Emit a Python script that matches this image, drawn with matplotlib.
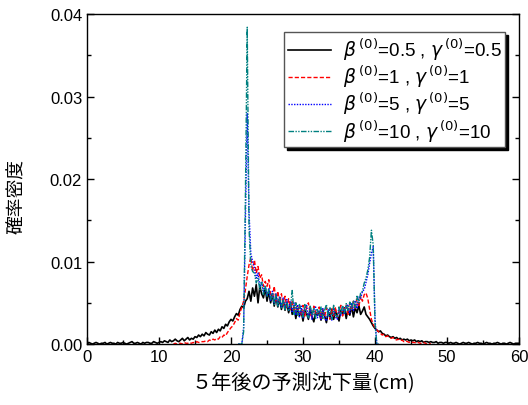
import numpy as np
import matplotlib
matplotlib.use("Agg")
import matplotlib.pyplot as plt
from matplotlib.ticker import MultipleLocator

plt.rcParams['font.family'] = ['Liberation Sans', 'Noto Sans CJK JP', 'DejaVu Sans']
plt.rcParams['mathtext.fontset'] = 'dejavusans'

# bin width of the settlement histograms (cm); densities stored in units of 1e-4
step = 0.25
scale = 1e-4

# beta=0.5, gamma=0.5 : from 0 cm to 60 cm
b05_start = 0.0
b05 = [
    0, 2, 1, 0, 1, 2, 1, 0, 1, 1, 2, 0, 1, 2, 1, 1, 0, 2, 1, 1, 2, 1, 0, 1, 2, 3, 1, 1, 2, 1, 0, 2, 1, 2, 2, 1, 1, 3, 2, 1, 2,
    3, 2, 4, 3, 2, 5, 3, 4, 6, 4, 3, 5, 7, 4, 6, 8, 5, 7, 6, 9,
    8, 11, 9, 12, 10, 14, 12, 11, 15, 13, 17, 14, 18, 16, 21, 19, 24, 22, 27, 30,
    28, 33, 37, 35, 42, 46, 44, 52,
    55, 64, 52, 68, 58, 72, 50, 70, 61, 56, 68, 52,
    64, 50, 61, 46, 58, 45, 55, 42, 53, 41, 50, 38,
    48, 36, 45, 31, 43, 34, 40, 28, 41, 37, 30, 44, 33, 27, 39, 35,
    38, 29, 41, 34, 26, 39, 33, 42, 30, 40, 35, 28, 41, 36, 44, 31,
    43, 35, 46, 33, 44, 38, 47, 36, 40, 45,
    36, 33, 30, 26, 22, 19,
    17, 15, 16, 13, 12, 10, 11, 9,
    8, 9, 7, 8, 6, 7, 5, 6, 5, 6, 4, 5,
    4, 5, 3, 4, 3, 4, 2, 3, 3, 2, 3, 2, 2, 3, 1, 2, 2, 1, 2, 2,
    1, 2, 1, 1, 2, 1, 0, 1, 2, 1, 1, 2, 1, 0, 1, 1, 2, 1, 1, 0,
    1, 2, 1, 1, 0, 1, 1, 2, 1, 0, 1, 1, 0, 1, 2, 1, 0, 1, 1, 1,
]

# beta=1, gamma=1 : from 12 cm
b1_start = 12.0
b1 = [
    0, 1, 0, 1, 1, 0, 2, 1, 1, 2, 1, 2, 1, 3, 2, 2, 3,
    3, 4, 3, 5, 4, 6, 5, 7, 6, 9, 8, 11, 10, 14, 17, 20,
    22, 26, 31, 29, 38, 45, 52, 66,
    82, 96, 105, 88, 102, 86,
    94, 80, 84, 70, 76,
    70, 78, 60, 57, 70, 52, 64, 50, 61, 47, 58, 45,
    55, 42, 53, 38, 50, 36, 48, 35, 47, 34, 45, 50, 36, 33, 46, 38,
    35, 45, 31, 42, 33, 44, 36, 30, 43, 34, 45, 32, 40, 47, 34, 43,
    47, 36, 50, 40, 52, 42, 55, 45, 58, 52,
    60, 62, 55, 42, 30, 24,
    20, 17, 15, 13, 11, 12, 9, 10,
    8, 7, 8, 6, 5, 6, 4, 5, 3, 4, 3, 2,
    3, 2, 2, 1, 2, 1, 1, 2, 1, 0, 1, 0,
]

# beta=5, gamma=5 : from 21 cm
b5_start = 21.0
b5 = [
    0, 0, 0,
    20, 150, 280,
    160, 110, 100,
    92, 80, 86, 70, 76, 64, 70, 58,
    68, 52, 64, 49, 61, 46, 58, 44, 56, 42, 54, 41,
    52, 38, 50, 35, 48, 33, 46, 32, 44, 47, 31, 43, 30, 42, 45, 32,
    41, 30, 43, 32, 28, 42, 34, 29, 44, 33, 30, 43, 35, 46, 36, 45,
    48, 37, 50, 40, 53, 43, 57, 55, 64, 66,
    75, 84, 98, 110, 118,
    30, 0, 0,
]

# beta=10, gamma=10 : from 21 cm
b10_start = 21.0
b10 = [
    0, 0, 0,
    15, 180, 384,
    140, 95, 88,
    86, 74, 80, 66, 75, 60, 71, 58,
    66, 54, 62, 48, 60, 46, 56, 44, 54, 42, 51, 40,
    44, 65, 36, 50, 35, 48, 40, 33, 48, 37, 32, 46, 35, 44, 31, 42,
    34, 45, 31, 41, 48, 33, 44, 30, 47, 35, 33, 45, 36, 47, 38, 49,
    40, 51, 42, 53, 44, 58, 50, 62, 64, 74,
    80, 90, 105, 138, 120,
    25, 0, 0,
]

series = [
    (b05_start, b05, r'$\beta^{\,(0)}$=0.5 , $\gamma^{\,(0)}$=0.5', 'black', '-', 1.2),
    (b1_start, b1, r'$\beta^{\,(0)}$=1 , $\gamma^{\,(0)}$=1', '#ff0000', (0, (3, 1.5)), 1.0),
    (b5_start, b5, r'$\beta^{\,(0)}$=5 , $\gamma^{\,(0)}$=5', '#0000ff', (0, (1, 1)), 1.0),
    (b10_start, b10, r'$\beta^{\,(0)}$=10 , $\gamma^{\,(0)}$=10', '#008080', (0, (4, 1, 1, 1, 1, 1)), 1.0),
]

fig = plt.figure(figsize=(5.28, 4.06), dpi=100)
ax = fig.add_axes([0.1648, 0.150, 0.8182, 0.813])

for start, vals, label, color, ls, lw in series:
    y = np.array(vals) * scale
    x = start + step * np.arange(len(y))
    ax.plot(x, y, color=color, linestyle=ls, linewidth=lw, label=label)

ax.set_xlim(0, 60)
ax.set_ylim(0, 0.04)
ax.xaxis.set_major_locator(MultipleLocator(10))
ax.xaxis.set_minor_locator(MultipleLocator(5))
ax.yaxis.set_major_locator(MultipleLocator(0.01))
ax.yaxis.set_minor_locator(MultipleLocator(0.005))
ax.yaxis.set_major_formatter(matplotlib.ticker.FormatStrFormatter('%.2f'))
ax.tick_params(which='both', direction='in', right=True, labelsize=12)
ax.tick_params(which='major', length=5, width=1)
ax.tick_params(which='minor', length=3, width=1)
for s in ax.spines.values():
    s.set_linewidth(1.0)

ax.set_xlabel('５年後の予測沈下量(cm)', fontsize=14.5, family=['Noto Sans CJK JP'], labelpad=5)
ax.set_ylabel('確率密度', fontsize=13.5, family=['Noto Sans CJK JP'])
ax.yaxis.set_label_coords(-0.14, 0.45)

leg = ax.legend(loc='upper right', bbox_to_anchor=(0.968, 0.945), fontsize=13.5,
                frameon=True, fancybox=False, shadow={'color': 'black', 'alpha': 1.0},
                handlelength=2.3, handletextpad=0.6, labelspacing=0.05, borderpad=0.2,
                borderaxespad=0)
leg.get_frame().set_edgecolor('#555555')
leg.get_frame().set_linewidth(1.0)
leg.get_frame().set_alpha(1.0)

fig.savefig('out.png', dpi=100)
